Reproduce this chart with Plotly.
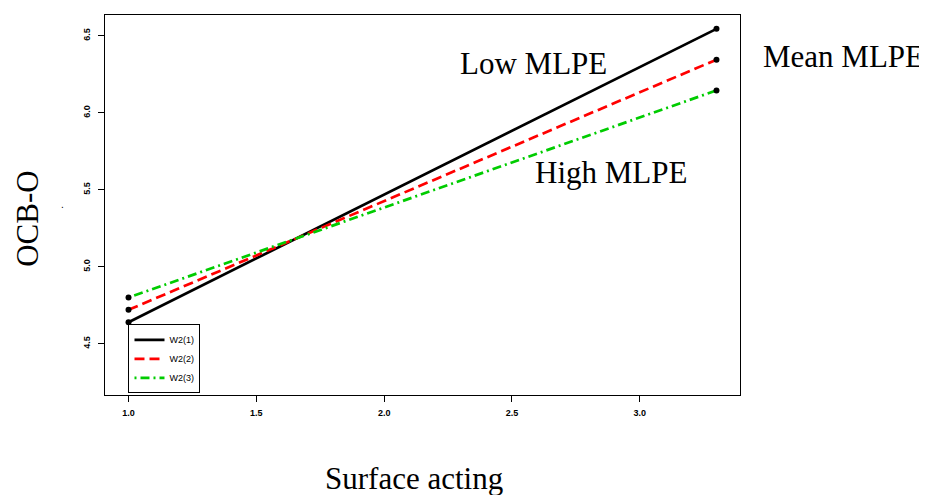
import plotly.graph_objects as go

# Data
x_ends = [1.0, 3.3]
w2_1 = [4.64, 6.545]   # Low MLPE
w2_2 = [4.72, 6.345]   # Mean MLPE
w2_3 = [4.80, 6.145]   # High MLPE
series_names = ["W2(1)", "W2(2)", "W2(3)"]
x_ticks = [1.0, 1.5, 2.0, 2.5, 3.0]
x_tick_text = ["1.0", "1.5", "2.0", "2.5", "3.0"]
y_ticks = [4.5, 5.0, 5.5, 6.0, 6.5]
y_tick_text = ["4.5", "5.0", "5.5", "6.0", "6.5"]

series = [w2_1, w2_2, w2_3]
colors = ["#000000", "#ff0000", "#00cc00"]
dashes = ["solid", "10px,5px", "2px,4px,9px,4px"]

fig = go.Figure()
for name, ys, c, d in zip(series_names, series, colors, dashes):
    fig.add_trace(go.Scatter(x=x_ends, y=ys, mode="lines", name=name,
                             line=dict(color=c, width=2.7, dash=d)))
for ys in series:
    fig.add_trace(go.Scatter(x=x_ends, y=ys, mode="markers", showlegend=False,
                             marker=dict(color="black", size=6)))

serif = "Liberation Serif, Times New Roman, serif"
tickfont = dict(family="Liberation Sans, Arial, sans-serif", size=9, color="black", weight="bold")

# the page body adds an 8px offset; the figure is sized so it fills the window
fig.update_layout(
    width=919, height=487,
    margin=dict(l=97, r=187, t=7, b=100),
    paper_bgcolor="white", plot_bgcolor="white",
    showlegend=True,
    legend=dict(x=0.037, y=0.186, xanchor="left", yanchor="top",
                bordercolor="black", borderwidth=1, bgcolor="white",
                font=dict(family="Liberation Sans, Arial, sans-serif", size=9, color="black"),
                tracegroupgap=0, itemwidth=30),
    xaxis=dict(range=[0.908, 3.392], tickvals=x_ticks, ticktext=x_tick_text,
               showgrid=False, zeroline=False, showline=True, linecolor="black",
               linewidth=1, mirror=True, ticks="outside", ticklen=6, tickcolor="black",
               tickfont=tickfont, ticklabelstandoff=3),
    yaxis=dict(range=[4.167, 6.635], tickvals=y_ticks, ticktext=y_tick_text,
               showgrid=False, zeroline=False, showline=True, linecolor="black",
               linewidth=1, mirror=True, ticks="outside", ticklen=6, tickcolor="black",
               tickangle=-90, tickfont=tickfont, ticklabelstandoff=4),
)

ann_font = dict(family=serif, size=31, color="black")
fig.add_annotation(text="Low MLPE", xref="paper", yref="paper", x=0.6746, y=0.8735,
                   showarrow=False, font=ann_font, xanchor="center", yanchor="middle")
fig.add_annotation(text="Mean MLPE", xref="paper", yref="paper", x=1.163, y=0.892,
                   showarrow=False, font=ann_font, xanchor="center", yanchor="middle")
fig.add_annotation(text="High MLPE", xref="paper", yref="paper", x=0.797, y=0.585,
                   showarrow=False, font=ann_font, xanchor="center", yanchor="middle")
fig.add_annotation(text="Surface acting", xref="paper", yref="paper", x=0.487, y=-0.221,
                   showarrow=False, font=ann_font, xanchor="center", yanchor="middle")
fig.add_annotation(text="OCB-O", xref="paper", yref="paper", x=-0.122, y=0.4625,
                   showarrow=False, font=ann_font, textangle=-90,
                   xanchor="center", yanchor="middle")
fig.add_annotation(text=".", xref="paper", yref="paper", x=-0.067, y=0.502,
                   showarrow=False, font=dict(family="Liberation Sans, Arial, sans-serif", size=10, color="black"),
                   xanchor="center", yanchor="middle")

fig.write_html("out.html")
